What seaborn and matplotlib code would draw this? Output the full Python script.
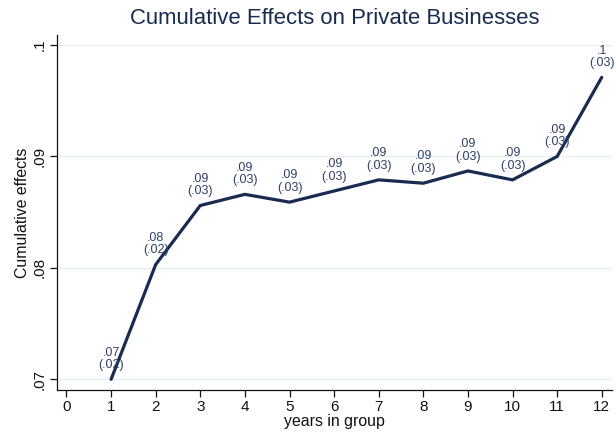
import matplotlib
matplotlib.use("Agg")
import matplotlib.pyplot as plt
import seaborn as sns
import pandas as pd

# Cumulative effect estimates by years spent in the group
years = [1, 2, 3, 4, 5, 6, 7, 8, 9, 10, 11, 12]
effects = [0.0700, 0.0803, 0.0856, 0.0866, 0.0859, 0.0869, 0.0879, 0.0876, 0.0887, 0.0879, 0.0900, 0.0971]
std_errors = [0.02, 0.02, 0.03, 0.03, 0.03, 0.03, 0.03, 0.03, 0.03, 0.03, 0.03, 0.03]
x_ticks = list(range(0, 13))
y_ticks = [0.07, 0.08, 0.09, 0.10]
y_tick_labels = [".07", ".08", ".09", ".1"]

df = pd.DataFrame({"years": years, "effect": effects, "se": std_errors})

sns.set_theme(style="white")
plt.rcParams["font.family"] = ["Liberation Sans", "DejaVu Sans"]

navy = "#1a2b50"
label_col = "#2f3f66"

fig = plt.figure(figsize=(6.16, 4.36), dpi=100)
ax = fig.add_axes([0.092, 0.1055, 0.9015, 0.8142])

sns.lineplot(data=df, x="years", y="effect", ax=ax, color=navy, linewidth=2.3,
             solid_joinstyle="miter", zorder=3)


def fmt(v, nd):
    s = f"{round(v, nd):.{nd}f}".rstrip("0").rstrip(".")
    return s[1:] if s.startswith("0") else s


for x, y, se in zip(df["years"], df["effect"], df["se"]):
    ax.annotate(f"{fmt(y, 2)}\n({fmt(se, 2)})", (x, y), xytext=(0, 6),
                textcoords="offset points", ha="center", va="bottom",
                fontsize=9, color=label_col, linespacing=1.05, zorder=4)

ax.set_xlim(-0.22, 12.23)
ax.set_ylim(0.06904, 0.1009)
ax.set_xticks(x_ticks)
ax.set_xticklabels([str(t) for t in x_ticks])
ax.set_yticks(y_ticks)
ax.set_yticklabels(y_tick_labels, rotation=90, va="center")

ax.grid(axis="y", color="#e6eef0", linewidth=1.0, zorder=0)
ax.grid(axis="x", visible=False)
for side in ["top", "right"]:
    ax.spines[side].set_visible(False)
for side in ["left", "bottom"]:
    ax.spines[side].set_color("#111111")
    ax.spines[side].set_linewidth(0.9)

ax.tick_params(axis="both", which="major", direction="out", length=5, width=0.9,
               color="#111111", labelsize=11, labelcolor="#111111", pad=2,
               bottom=True, left=True)

ax.set_xlabel("years in group", fontsize=11.4, color="#111111", labelpad=0)
ax.set_ylabel("Cumulative effects", fontsize=11.4, color="#111111", labelpad=2)
ax.set_title("Cumulative Effects on Private Businesses", fontsize=15.9,
             color=navy, pad=8)

fig.savefig("out.png", dpi=100)
